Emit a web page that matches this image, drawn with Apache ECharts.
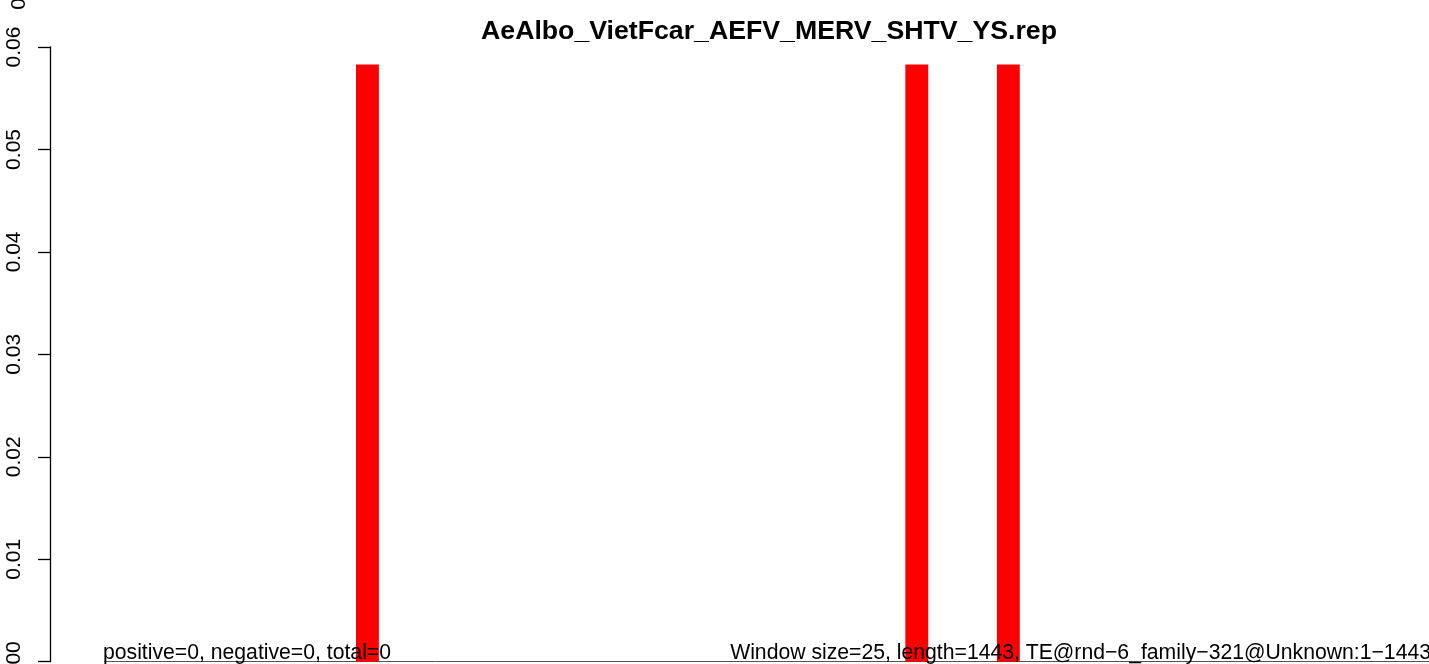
<!DOCTYPE html>
<html>
<head>
<meta charset="utf-8">
<script src="https://cdn.jsdelivr.net/npm/echarts@6/dist/echarts.min.js"></script>
<style>
html,body{margin:0;padding:0;background:#fff;}
#chart{width:1429px;height:664px;}
</style>
</head>
<body>
<div id="chart"></div>
<script>
var titleText = "AeAlbo_VietFcar_AEFV_MERV_SHTV_YS.rep";
var leftNote = "positive=0, negative=0, total=0";
var rightNote = "Window size=25, length=1443, TE@rnd\u22126_family\u2212321@Unknown:1\u22121443";
var windows = ["1","2","3","4","5","6","7","8","9","10",
  "11","12","13","14","15","16","17","18","19","20",
  "21","22","23","24","25","26","27","28","29","30",
  "31","32","33","34","35","36","37","38","39","40",
  "41","42","43","44","45","46","47","48","49","50",
  "51","52","53","54","55","56","57","58"];
var values = [0,0,0,0,0,0,0,0,0,0,
  0,0.0583,0,0,0,0,0,0,0,0,
  0,0,0,0,0,0,0,0,0,0,
  0,0,0,0,0,0.0583,0,0,0,0.0583,
  0,0,0,0,0,0,0,0,0,0,
  0,0,0,0,0,0,0,0];
var yTicks = [0, 0.01, 0.02, 0.03, 0.04, 0.05, 0.06];

var FONT = '"Liberation Sans", Arial, Helvetica, sans-serif';
var chart = echarts.init(document.getElementById('chart'), null, {renderer: 'canvas'});
chart.setOption({
  animation: false,
  backgroundColor: '#ffffff',
  title: {
    text: titleText,
    left: 764,
    textAlign: 'center',
    top: 13,
    textStyle: {fontFamily: FONT, fontWeight: 'bold', fontSize: 26.7, color: '#000'}
  },
  grid: {left: 104.2, top: 47, width: 1327.6, height: 614.7, outerBoundsMode: 'none', containLabel: false},
  xAxis: {
    type: 'category',
    data: windows,
    show: false
  },
  yAxis: {
    type: 'value',
    min: yTicks[0],
    max: yTicks[yTicks.length - 1],
    interval: 0.01,
    offset: 54.2,
    axisLine: {show: true, lineStyle: {color: '#000', width: 1.3}},
    axisTick: {show: true, length: 12, lineStyle: {color: '#000', width: 1.3}},
    splitLine: {show: false},
    axisLabel: {
      rotate: 90,
      margin: 25,
      fontFamily: FONT,
      fontSize: 21,
      color: '#000',
      hideOverlap: false,
      showMinLabel: true,
      showMaxLabel: true,
      formatter: function (v) { return v.toFixed(2); }
    }
  },
  series: [{
    type: 'bar',
    data: values,
    barCategoryGap: '0%',
    itemStyle: {color: '#ff0000'},
    z: 3,
    markLine: {
      silent: true,
      symbol: ['none', 'none'],
      label: {show: false},
      lineStyle: {color: '#555555', type: 'solid', width: 1},
      data: [{yAxis: 0}],
      z: 1
    }
  }],
  graphic: [
    {type: 'text', left: 103, top: 642.5, z: 100,
     style: {text: leftNote, font: '21.2px ' + FONT, fill: '#000'}},
    {type: 'text', right: -2, top: 642.5, z: 100,
     style: {text: rightNote, font: '21.2px ' + FONT, fill: '#000'}},
    {type: 'text', x: 19, y: 4, rotation: Math.PI / 2, z: 100,
     style: {text: '0', font: '21px ' + FONT, fill: '#000', align: 'center', verticalAlign: 'middle'}}
  ]
});
</script>
</body>
</html>
